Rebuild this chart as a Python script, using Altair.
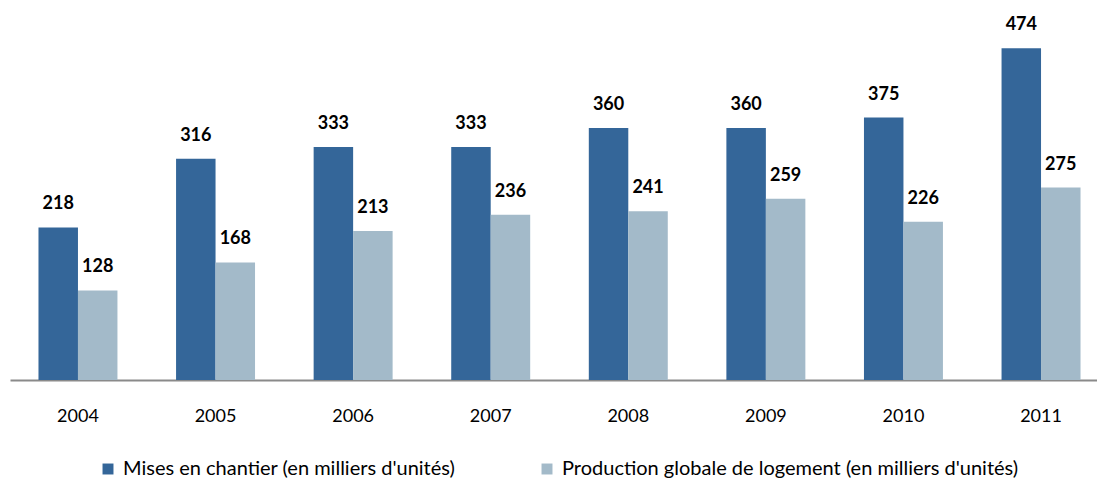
import altair as alt
import pandas as pd

years = ["2004", "2005", "2006", "2007", "2008", "2009", "2010", "2011"]
mises = [218, 316, 333, 333, 360, 360, 375, 474]
production = [128, 168, 213, 236, 241, 259, 226, 275]
series_names = [
    "Mises en chantier (en milliers d'unités)",
    "Production globale de logement (en milliers d'unités)",
]
colors = ["#346699", "#A3BAC9"]

rows = []
for i, y in enumerate(years):
    rows.append({"annee": y, "serie": series_names[0], "valeur": mises[i]})
    rows.append({"annee": y, "serie": series_names[1], "valeur": production[i]})
df = pd.DataFrame(rows)

FONT = "Lato"

x = alt.X(
    "annee:N",
    title=None,
    sort=years,
    scale=alt.Scale(range=[0, 1099], paddingInner=0.426, paddingOuter=0.207),
    axis=alt.Axis(
        labelAngle=0,
        ticks=False,
        domainColor="#8a8a8a",
        domainWidth=2,
        labelFontSize=18,
        labelFont=FONT,
        labelColor="black",
        labelPadding=27,
    ),
)
y = alt.Y("valeur:Q", scale=alt.Scale(domain=[0, 500]), axis=None)
xoff = alt.XOffset("serie:N", sort=series_names, scale=alt.Scale(paddingInner=0, paddingOuter=0))

base = alt.Chart(df)

bars = base.mark_bar().encode(
    x=x,
    y=y,
    xOffset=xoff,
    color=alt.Color(
        "serie:N",
        sort=series_names,
        scale=alt.Scale(domain=series_names, range=colors),
        legend=alt.Legend(
            orient="none",
            legendX=88,
            legendY=429,
            padding=0,
            direction="horizontal",
            title=None,
            symbolType="square",
            symbolSize=120,
            symbolStrokeWidth=0,
            labelFontSize=20,
            labelFont=FONT,
            labelColor="black",
            labelLimit=800,
            labelOffset=5,
            columnPadding=81,
        ),
    ),
)

labels = base.mark_text(
    font=FONT, fontSize=18, fontWeight="bold", color="black", dy=-14, baseline="bottom"
).encode(x=x, y=y, xOffset=xoff, text=alt.Text("valeur:Q"))

chart = (
    alt.layer(bars, labels)
    .properties(
        width=1087,
        height=350,
        autosize=alt.AutoSizeParams(type="none"),
        padding={"left": 10, "top": 30, "right": 0, "bottom": 101},
        background="white",
    )
    .configure_view(stroke=None)
)

chart.save("out.html", embed_options={"renderer": "svg", "actions": False})
